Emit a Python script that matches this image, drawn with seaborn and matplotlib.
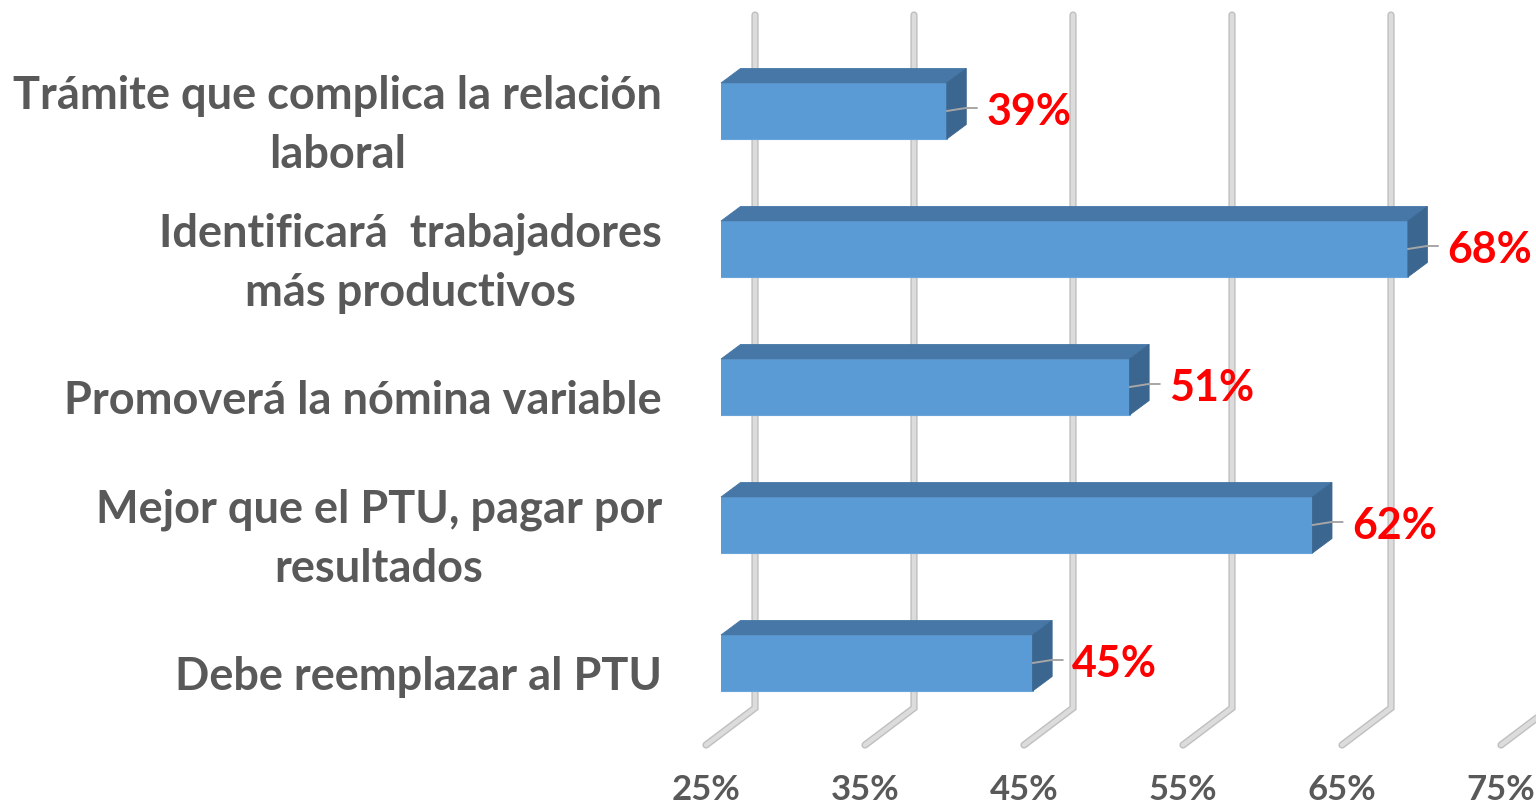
import matplotlib
matplotlib.use("Agg")
import matplotlib.pyplot as plt
from matplotlib.patches import Polygon
import seaborn as sns
import pandas as pd

# ---- data ----
categories = [
    "Trámite que complica la relación\nlaboral",
    "Identificará  trabajadores\nmás productivos",
    "Promoverá la nómina variable",
    "Mejor que el PTU, pagar por\nresultados",
    "Debe reemplazar al PTU",
]
values = [39.2, 68.2, 50.7, 62.2, 44.6]
value_labels = ["39%", "68%", "51%", "62%", "45%"]
tick_values = [25, 35, 45, 55, 65, 75]
tick_labels = ["25%", "35%", "45%", "55%", "65%", "75%"]

sns.set_theme(style="white")
plt.rcParams["font.family"] = ["Lato", "DejaVu Sans"]

W, H, DPI = 1536, 805, 100
fig = plt.figure(figsize=(W / DPI, H / DPI), dpi=DPI)
fig.patch.set_facecolor("white")

# axes = front plane of the bars
ax_l, ax_r, ax_t, ax_b = 721, 1516, 41, 734
ax = fig.add_axes([ax_l / W, 1 - ax_b / H, (ax_r - ax_l) / W, (ax_b - ax_t) / H])
XMIN, XMAX = 25, 75
K = (ax_r - ax_l) / (XMAX - XMIN)        # px per percent
U = 138.0                                 # px per category step
YTOP = (ax_t - 111) / U
YBOT = (ax_b - 111) / U

df = pd.DataFrame({"cat": categories, "val": values})
BAR_H = 56 / U
sns.barplot(data=df, x="val", y="cat", orient="h", color="#5B9BD5",
            width=BAR_H, saturation=1, ax=ax, zorder=3,
            edgecolor="#6aa5da", linewidth=0.8)
ax.set_xlim(XMIN, XMAX)
ax.set_ylim(YBOT, YTOP)
ax.axis("off")

# 3D offsets (in data units)
bx, by = 34 / K, -26 / U      # back wall
fx, fy = -15 / K, 11 / U      # front floor edge
dx, dy = 19.5 / K, -14.5 / U  # bar depth

# gridlines drawn as tubes
for g in tick_values:
    xs = [g + bx, g + bx, g + fx]
    ys = [YTOP + by, YBOT + by, YBOT + fy]
    ax.plot(xs, ys, color="#bfbfbf", lw=5.2, solid_capstyle="round",
            solid_joinstyle="miter", zorder=1, clip_on=False)
    ax.plot(xs, ys, color="#dcdcdc", lw=3.2, solid_capstyle="round",
            solid_joinstyle="miter", zorder=1.1, clip_on=False)

# bar top and side faces
for p in ax.patches:
    x1 = p.get_x() + p.get_width()
    x0 = max(p.get_x(), XMIN)
    top = p.get_y()
    bot = p.get_y() + p.get_height()
    topface = Polygon([(x0, top), (x0 + dx, top + dy), (x1 + dx, top + dy), (x1, top)],
                      closed=True, facecolor="#4677a6", edgecolor="#4677a6",
                      lw=0.6, zorder=3, clip_on=False)
    side = Polygon([(x1, top), (x1 + dx, top + dy), (x1 + dx, bot + dy), (x1, bot)],
                   closed=True, facecolor="#3b6690", edgecolor="#3b6690",
                   lw=0.6, zorder=3, clip_on=False)
    ax.add_patch(topface)
    ax.add_patch(side)

# leader lines and value labels
for i, (v, lab) in enumerate(zip(values, value_labels)):
    ly = i - 3 / U
    ax.plot([v, v + 1.2, v + 1.9], [i, ly, ly], color="#a6a6a6", lw=1.4,
            zorder=4, clip_on=False)
    ax.text(v + 2.5, ly, lab, color="#ff0000", fontsize=31, fontweight="bold",
            ha="left", va="center_baseline", zorder=5, clip_on=False)

# category labels
for i, c in enumerate(categories):
    ax.text(XMIN - 59 / K, i + fy + 3 / U, c, color="#595959", fontsize=32.5,
            fontweight="bold", ha="right", va="center", multialignment="center",
            linespacing=1.5, clip_on=False)

# x tick labels on the front floor edge
for g, t in zip(tick_values, tick_labels):
    ax.text(g + fx, YBOT + 56 / U, t, color="#595959", fontsize=25,
            fontweight="bold", ha="center", va="center", clip_on=False)

fig.savefig("out.png", dpi=DPI, facecolor="white")
